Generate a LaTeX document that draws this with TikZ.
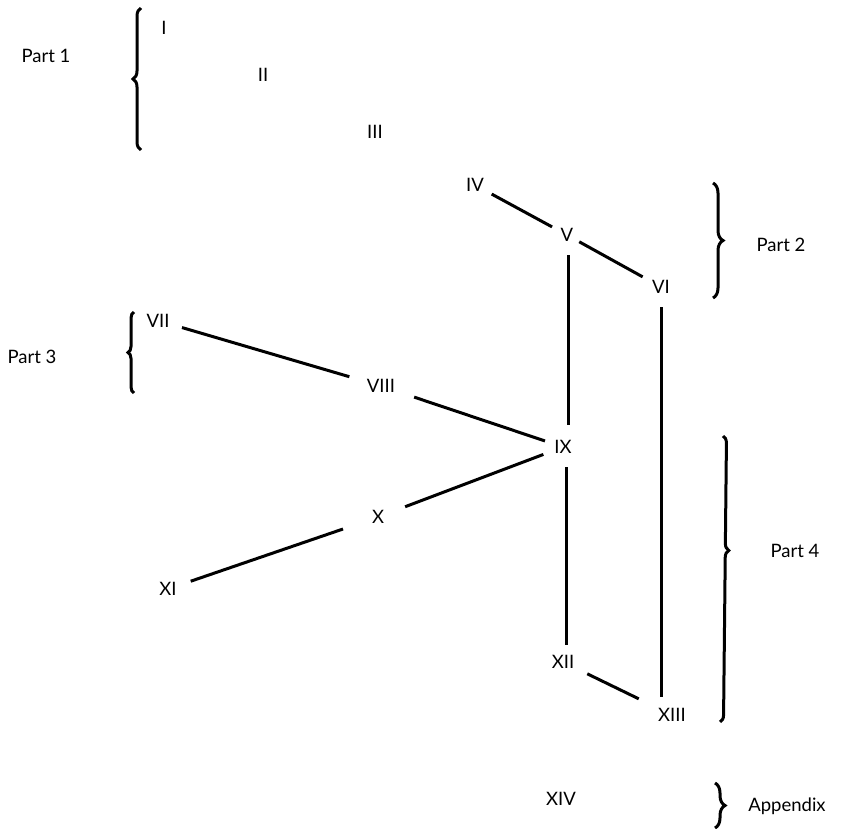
\documentclass[tikz,border=0pt]{standalone}
\usepackage{fontspec}
\setmainfont{Lato}
\usetikzlibrary{decorations.pathreplacing}
\begin{document}
\begin{tikzpicture}[x=1pt,y=-1pt,
  lbl/.style={font=\fontsize{18.5}{22}\selectfont, text height=13.2pt, text depth=0pt, inner sep=0pt},
  link/.style={line width=3pt},
  grp/.style={line width=3pt, decorate, decoration={brace, amplitude=#1}},
  grp/.default=8pt]
\useasboundingbox (0,0) rectangle (844,828);

% chapter numbers
\node[lbl] (I)    at (164,27.5) {I};
\node[lbl] (II)   at (263,75)   {II};
\node[lbl] (III)  at (375,131.5){III};
\node[lbl] (IV)   at (475,185)  {IV};
\node[lbl] (V)    at (567,235)  {V};
\node[lbl] (VI)   at (661,287)  {VI};
\node[lbl] (VII)  at (158,320.5){VII};
\node[lbl] (VIII) at (381,386)  {VIII};
\node[lbl] (IX)   at (563,447)  {IX};
\node[lbl] (X)    at (378,517)  {X};
\node[lbl] (XI)   at (168,589)  {XI};
\node[lbl] (XII)  at (563,662)  {XII};
\node[lbl] (XIII) at (672,715)  {XIII};
\node[lbl] (XIV)  at (561,799)  {XIV};

% part labels
\node[lbl] (p1) at (46,55.5) {Part 1};
\node[lbl] (p2) at (781,245) {Part 2};
\node[lbl] (p3) at (32,357)  {Part 3};
\node[lbl] (p4) at (795,551) {Part 4};
\node[lbl] (pa) at (787,805) {Appendix};

% connections between chapters
\draw[link, shorten <=19pt, shorten >=17pt] (IV.center) -- (V.center);
\draw[link, shorten <=14pt, shorten >=21pt] (V.center) -- (VI.center);
\draw[link, shorten <=20pt, shorten >=22pt] ([xshift=1pt]V.center) -- ([xshift=1pt]V.center |- IX.center);
\draw[link, shorten <=20pt, shorten >=18pt] (VI.center) -- (VI.center |- XIII.center);
\draw[link, shorten <=25pt, shorten >=33pt] (VII.center) -- (VIII.center);
\draw[link, shorten <=35pt, shorten >=19pt] (VIII.center) -- (IX.center);
\draw[link, shorten <=21pt, shorten >=29pt] (IX.center) -- (X.center);
\draw[link, shorten <=37pt, shorten >=24pt] (X.center) -- (XI.center);
\draw[link, shorten <=20pt, shorten >=17pt] ([xshift=3pt]IX.center) -- ([xshift=3pt]IX.center |- XII.center);
\draw[link, shorten <=27pt, shorten >=37pt] (XII.center) -- (XIII.center);

% braces grouping the chapters into parts
\draw[grp=8pt] (141,150) -- (141,8);
\draw[grp=10pt] (713,183) -- (713,298);
\draw[grp=6pt] (134,393) -- (134,312);
\draw[link, decorate, decoration={brace, amplitude=7pt, aspect=0.4}] (723,436) -- (720,722);
\draw[grp=10pt] (715,783) -- (715,828);
\end{tikzpicture}
\end{document}
